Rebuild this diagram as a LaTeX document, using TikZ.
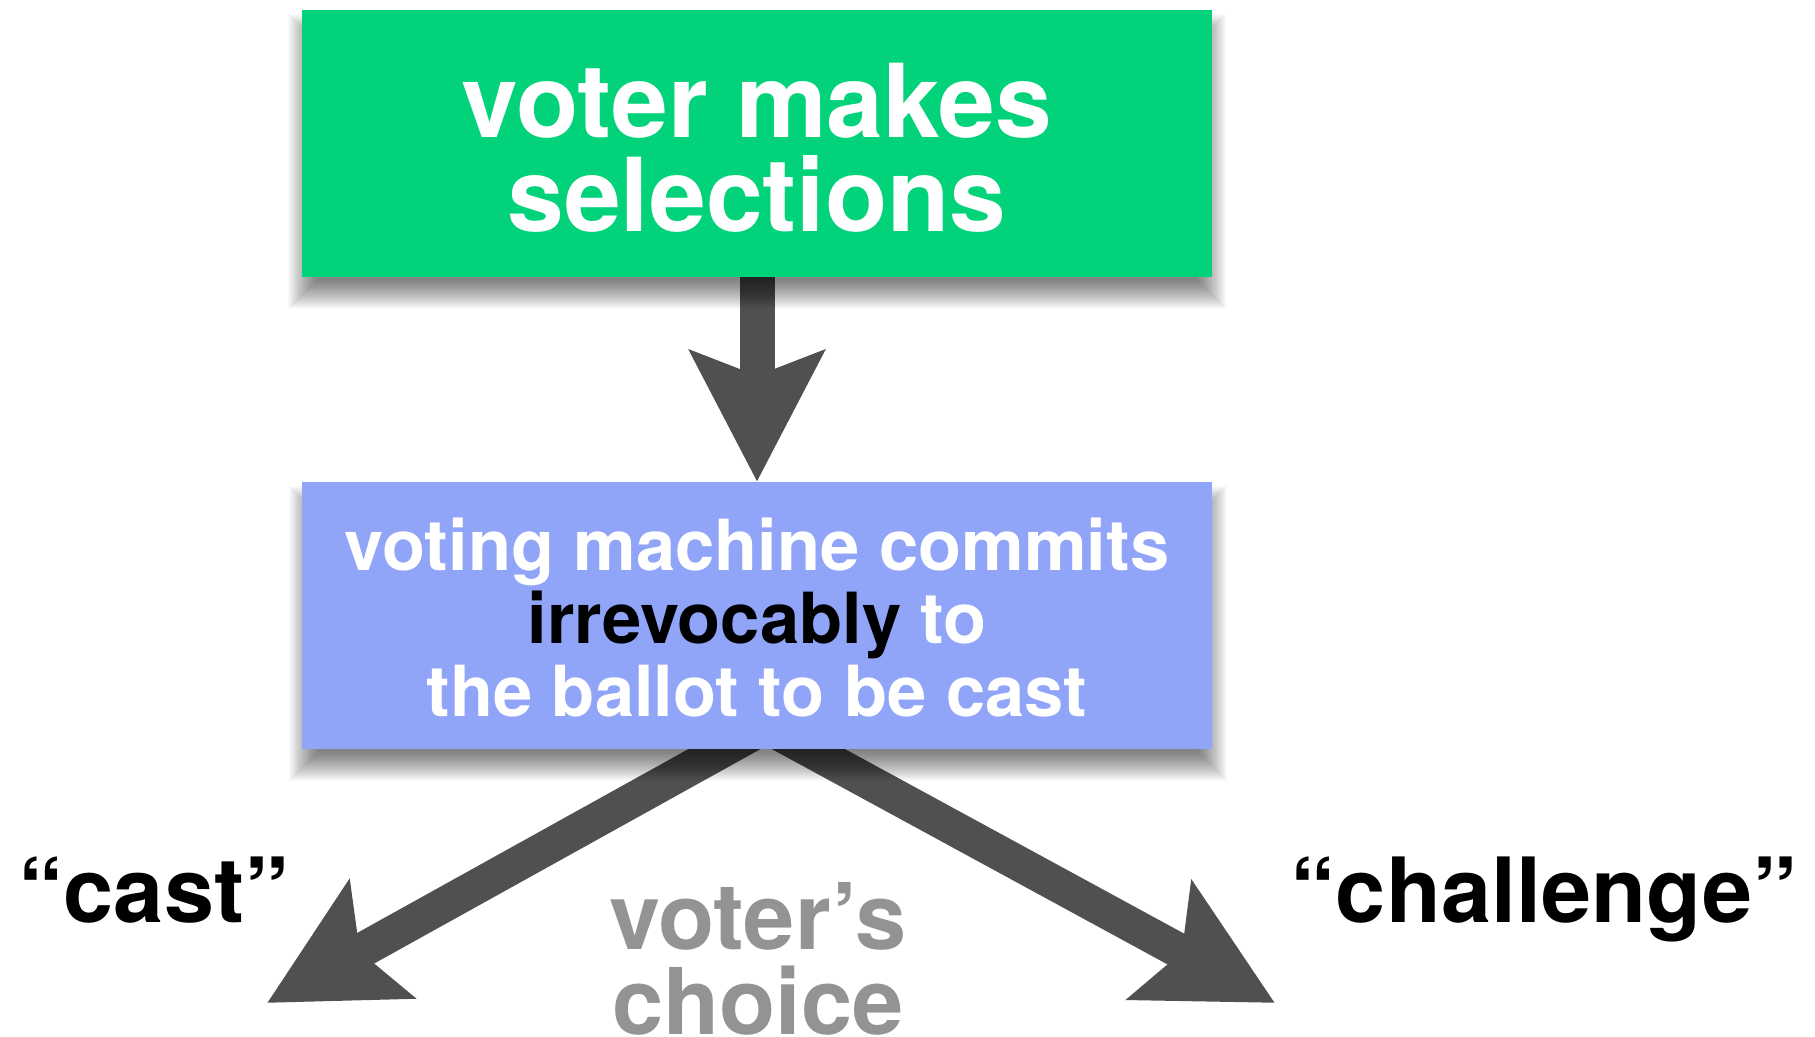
\documentclass[tikz,border=0pt]{standalone}
\usepackage{fontspec}
\setmainfont{TeX Gyre Heros}
\usetikzlibrary{arrows.meta,calc}
\definecolor{boxgreen}{HTML}{02D27A}
\definecolor{boxblue}{HTML}{91A5F8}
\definecolor{arrowgray}{HTML}{505050}
\definecolor{choicegray}{HTML}{939393}
\pgfdeclarelayer{bglayer}
\pgfdeclarelayer{arrowlayer}
\pgfdeclarelayer{shadowlayer}
\pgfsetlayers{bglayer,arrowlayer,shadowlayer,main}
\tikzset{
  stepbox/.style={inner sep=0pt, minimum width=910pt, minimum height=267pt, text=white, align=center},
  bigarrow/.style={draw=arrowgray, line width=35pt, -{Stealth[length=130pt,width=132pt,inset=24pt]}},
  choicetext/.style={inner sep=0pt, align=center, font=\bfseries\fontsize{90}{90}\selectfont},
  boxshadow/.style={fill=black, opacity=0.02}
}
\begin{document}
\begin{tikzpicture}[x=1pt,y=-1pt]
\begin{pgfonlayer}{bglayer}
\useasboundingbox[fill=white] (0,0) rectangle (1815,1036);
\end{pgfonlayer}
\node[stepbox, fill=boxgreen, font=\bfseries\fontsize{102}{94}\selectfont] (green) at (757,143.5) {\rule{0pt}{83pt}voter makes\\selections};
\node[stepbox, fill=boxblue, font=\bfseries\fontsize{70.5}{73}\selectfont] (blue) at (757,615.5) {\rule{0pt}{56pt}voting machine commits\\\textcolor{black}{irrevocably} to\\the ballot to be cast};
\coordinate (fork) at (766,726);
\coordinate (casttip) at (267,1003);
\coordinate (challtip) at (1275,1003);
\node[choicetext, anchor=base] (cast) at (154,922) {“cast”};
\node[choicetext, anchor=base] (challenge) at (1544,922) {“challenge”};
\node[choicetext, anchor=base, text=choicegray, font=\bfseries\fontsize{92}{85}\selectfont] (choice) at (758,1034) {voter’s\\choice};
\begin{pgfonlayer}{arrowlayer}
\draw[bigarrow] (green.south) -- (blue.north);
\draw[bigarrow] (fork) -- (casttip);
\draw[bigarrow] (fork) -- (challtip);
\end{pgfonlayer}
\begin{pgfonlayer}{shadowlayer}
\foreach \k in {1,...,30} {
  \fill[boxshadow] (287+\k, 13+\k) rectangle (1227-\k, 310-\k);
  \fill[boxshadow] (288+\k, 485+\k) rectangle (1228-\k, 782-\k);
}
\end{pgfonlayer}
\end{tikzpicture}
\end{document}
